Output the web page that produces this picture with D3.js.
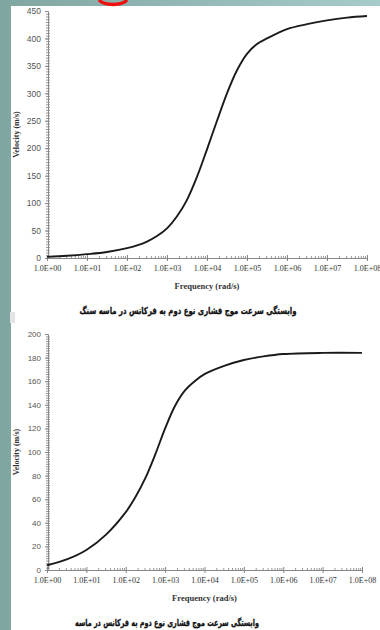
<!DOCTYPE html>
<html>
<head>
<meta charset="utf-8">
<script src="https://cdn.jsdelivr.net/npm/d3@7"></script>
<style>
  body { margin: 0; }
  svg { display: block; }
</style>
</head>
<body>
<svg></svg>
<script>
// frequency exponents (10^n rad/s) and velocity (m/s)
const stoneExp = [0, 0.5, 1, 1.5, 2, 2.25, 2.5, 2.75, 3, 3.25, 3.5, 3.75, 4, 4.25, 4.5, 4.75, 5, 5.25, 5.5, 6, 6.5, 7, 7.5, 8]
const stoneVel = [2, 4, 7, 11, 18, 23, 30, 40, 54, 76, 106, 148, 198, 250, 300, 342, 372, 390, 400, 417, 426, 433, 438, 441]

const sandExp = [0, 0.5, 1, 1.5, 2, 2.25, 2.5, 2.75, 3, 3.25, 3.5, 3.75, 4, 4.5, 5, 5.5, 6, 7, 8]
const sandVel = [4, 9, 17, 30, 49, 62, 78, 98, 120, 139, 152, 160, 166, 173, 178, 181, 183, 184, 184]

const xTickExp = [0, 1, 2, 3, 4, 5, 6, 7, 8]
const xTickLabels = ['1.0E+00', '1.0E+01', '1.0E+02', '1.0E+03', '1.0E+04', '1.0E+05', '1.0E+06', '1.0E+07', '1.0E+08']
const yTicksStone = [0, 50, 100, 150, 200, 250, 300, 350, 400, 450]
const yTicksSand = [0, 20, 40, 60, 80, 100, 120, 140, 160, 180, 200]

const xTitle = 'Frequency (rad/s)'
const yTitle = 'Velocity (m/s)'
const captionStone = 'وابستگی سرعت موج فشاری نوع دوم به فرکانس در ماسه سنگ'
const captionSand = 'وابستگی سرعت موج فشاری نوع دوم به فرکانس در ماسه'

const width = 380
const height = 630

const svg = d3.select('svg')
  .attr('width', width)
  .attr('height', height)

// slide background
const grad = svg.append('defs').append('linearGradient')
  .attr('id', 'bg')
  .attr('x1', 0).attr('x2', 1).attr('y1', 0).attr('y2', 0)
grad.append('stop').attr('offset', 0).attr('stop-color', '#80a6a1')
grad.append('stop').attr('offset', 1).attr('stop-color', '#a6cbcb')

svg.append('rect')
  .attr('width', width)
  .attr('height', height)
  .attr('fill', 'url(#bg)')

svg.append('rect')
  .attr('x', 11)
  .attr('y', 6)
  .attr('width', width - 11)
  .attr('height', height - 6)
  .attr('fill', '#fff')

svg.append('rect')
  .attr('x', 10)
  .attr('y', 312)
  .attr('width', 5)
  .attr('height', 11)
  .attr('fill', '#e4e4e4')

// red marker peeking in at the top
svg.append('path')
  .attr('d', 'M99,0 A15,7 0 0 0 127,0')
  .attr('fill', 'none')
  .attr('stroke', '#f01010')
  .attr('stroke-width', 3.5)

function drawChart (opt) {
  const g = svg.append('g')

  const x = d3.scaleLog()
    .domain([1, 1e8])
    .range([opt.left, opt.right])

  const y = d3.scaleLinear()
    .domain([0, opt.yMax])
    .range([opt.bottom, opt.top])

  // minor ticks on y
  g.append('g')
    .attr('transform', `translate(${opt.left + 1},0)`)
    .call(d3.axisLeft(y).tickValues(d3.range(0, opt.yMax, opt.yMinor)).tickSize(2).tickFormat(''))
    .call(g => g.select('.domain').remove())
    .call(g => g.selectAll('.tick line').attr('x1', 2).attr('stroke', '#999'))

  // y axis
  g.append('g')
    .attr('transform', `translate(${opt.left + 1},0)`)
    .call(d3.axisLeft(y).tickValues(opt.yTicks).tickSize(3).tickPadding(4))
    .call(g => g.select('.domain').attr('stroke', '#888'))
    .call(g => g.selectAll('.tick line').attr('stroke', '#888'))
    .call(g => g.selectAll('.tick text')
      .attr('font-family', 'Liberation Sans, sans-serif')
      .attr('font-size', opt.yFont)
      .attr('fill', '#555'))

  // minor log ticks on x
  const minor = []
  for (let d = 0; d < 8; d++) {
    for (let k = 2; k < 10; k++) minor.push(k * Math.pow(10, d))
  }
  g.append('g')
    .attr('transform', `translate(0,${opt.bottom})`)
    .call(d3.axisTop(x).tickValues(minor).tickSize(2).tickFormat(''))
    .call(g => g.select('.domain').remove())
    .call(g => g.selectAll('.tick line').attr('stroke', '#999'))

  // x axis
  g.append('g')
    .attr('transform', `translate(0,${opt.bottom})`)
    .call(d3.axisBottom(x)
      .tickValues(xTickExp.map(e => Math.pow(10, e)))
      .tickFormat((d, i) => xTickLabels[i])
      .tickSize(3)
      .tickPadding(4))
    .call(g => g.select('.domain').attr('stroke', '#888'))
    .call(g => g.selectAll('.tick line').attr('y1', -3).attr('stroke', '#888'))
    .call(g => g.selectAll('.tick text')
      .attr('font-family', 'Liberation Serif, serif')
      .attr('font-size', 8)
      .attr('fill', '#333'))

  // titles
  g.append('text')
    .attr('x', (opt.left + opt.right) / 2)
    .attr('y', opt.bottom + 31)
    .attr('text-anchor', 'middle')
    .attr('font-family', 'Liberation Serif, serif')
    .attr('font-weight', 'bold')
    .attr('font-size', 8.5)
    .attr('fill', '#333')
    .text(xTitle)

  g.append('text')
    .attr('transform', `translate(19,${(opt.top + opt.bottom) / 2}) rotate(-90)`)
    .attr('text-anchor', 'middle')
    .attr('font-family', 'Liberation Serif, serif')
    .attr('font-weight', 'bold')
    .attr('font-size', 8)
    .attr('fill', '#333')
    .text(yTitle)

  g.append('text')
    .attr('x', opt.capX)
    .attr('y', opt.bottom + 56)
    .attr('text-anchor', 'middle')
    .attr('direction', 'rtl')
    .attr('font-family', 'DejaVu Sans, sans-serif')
    .attr('font-weight', 'bold')
    .attr('font-size', 9.5)
    .attr('textLength', opt.capW)
    .attr('lengthAdjust', 'spacingAndGlyphs')
    .attr('fill', '#111')
    .attr('stroke', '#111')
    .attr('stroke-width', 0.3)
    .text(opt.caption)

  // the curve
  const line = d3.line()
    .x((d, i) => x(Math.pow(10, opt.exps[i])))
    .y(d => y(d))
    .curve(d3.curveCatmullRom.alpha(0.5))

  g.append('path')
    .datum(opt.vals)
    .attr('fill', 'none')
    .attr('stroke', '#1a1a1a')
    .attr('stroke-width', 1.9)
    .attr('d', line)
}

drawChart({
  left: 47, right: 367, top: 11, bottom: 258,
  yMax: 450, yMinor: 5, yTicks: yTicksStone, yFont: 8.5,
  exps: stoneExp, vals: stoneVel,
  caption: captionStone, capX: 188, capW: 217
})

drawChart({
  left: 47, right: 362, top: 334, bottom: 570,
  yMax: 200, yMinor: 2, yTicks: yTicksSand, yFont: 8,
  exps: sandExp, vals: sandVel,
  caption: captionSand, capX: 167, capW: 184
})
</script>
</body>
</html>
